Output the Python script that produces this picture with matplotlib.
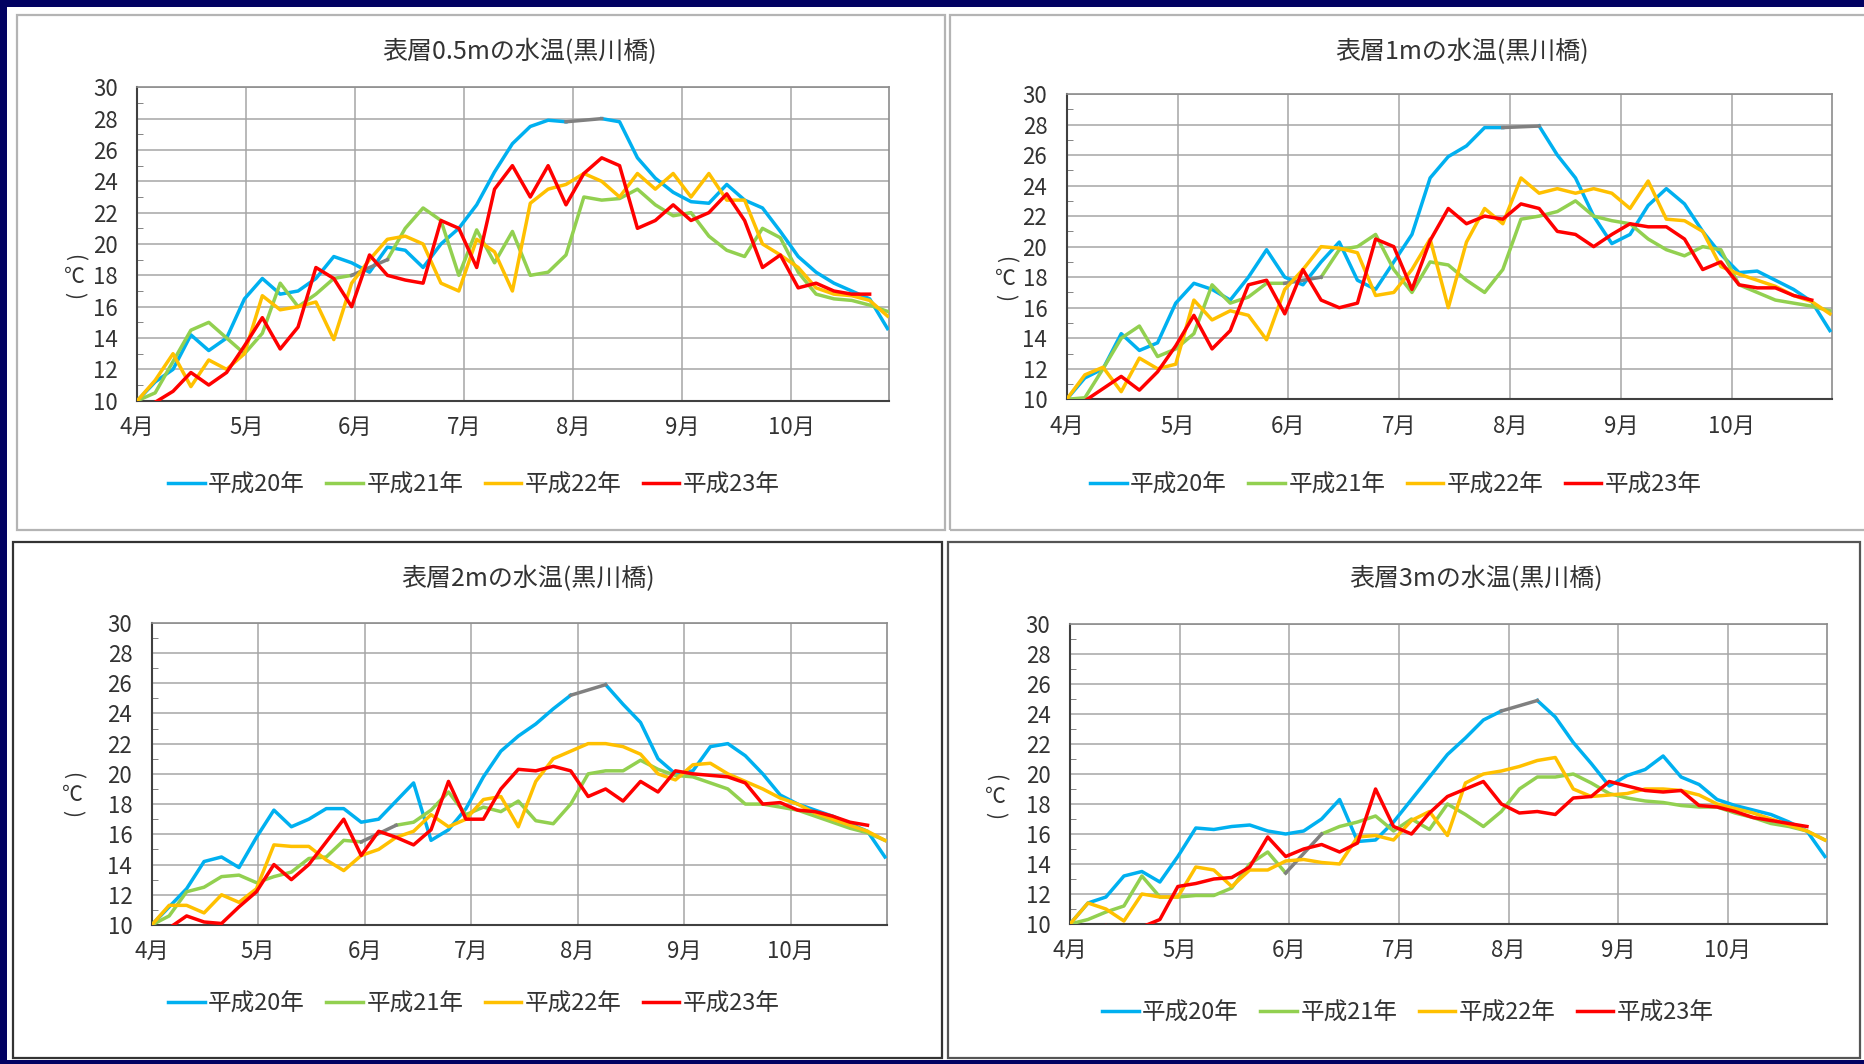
import numpy as np
import matplotlib
matplotlib.use("Agg")
import matplotlib.pyplot as plt
from matplotlib.patches import Rectangle
from matplotlib.ticker import MultipleLocator

plt.rcParams['font.family'] = ['Noto Sans CJK JP', 'DejaVu Sans']

W, H = 1865, 1064
nan = np.nan

# days counted from 4/1, one reading every 5 days
DAYS = list(range(0, 211, 5))
MONTH_POS = [0, 30.5, 61, 91.5, 122, 152.5, 183]
MONTH_LABELS = ['4月', '5月', '6月', '7月', '8月', '9月', '10月']
YEARS = ['平成20年', '平成21年', '平成22年', '平成23年']
COLORS = ['#00b0f0', '#92d050', '#ffc000', '#ff0000']
GAP_COLOR = '#808080'

# --- 表層0.5m ---
T05_H20 = [10.0, 11.2, 12.0, 14.2, 13.2, 14.0, 16.5,
           17.8, 16.8, 17.0, 17.8, 19.2, 18.8, 18.2,
           19.8, 19.6, 18.5, 20.0, 21.0, 22.5, 24.6,
           26.4, 27.5, 27.9, 27.8, nan, 28.0, 27.8,
           25.5, 24.2, 23.3, 22.7, 22.6, 23.8, 22.8,
           22.3, 20.8, 19.2, 18.2, 17.5, 17.0, 16.5, 14.6]
T05_H21 = [10.0, 10.5, 12.5, 14.5, 15.0, 14.0, 13.0,
           14.3, 17.5, 16.0, 16.8, 17.8, 18.0, nan,
           19.0, 21.0, 22.3, 21.5, 18.0, 20.9, 18.8,
           20.8, 18.0, 18.2, 19.3, 23.0, 22.8, 22.9,
           23.5, 22.5, 21.8, 22.0, 20.5, 19.6, 19.2,
           21.0, 20.4, 18.2, 16.8, 16.5, 16.4, 16.1, 15.7]
T05_H22 = [10.0, 11.3, 13.0, 10.9, 12.6, 12.0, 13.0,
           16.7, 15.8, 16.0, 16.3, 13.9, 17.5, 19.0,
           20.3, 20.5, 20.0, 17.5, 17.0, 20.3, 19.5,
           17.0, 22.6, 23.5, 23.8, 24.5, 24.0, 23.0,
           24.5, 23.5, 24.5, 23.0, 24.5, 22.8, 22.8,
           20.0, 19.3, 18.5, 17.2, 16.8, 16.7, 16.4, 15.4]
T05_H23 = [9.5, 9.9, 10.6, 11.8, 11.0, 11.8, 13.5,
           15.3, 13.3, 14.7, 18.5, 17.8, 16.0, 19.3,
           18.0, 17.7, 17.5, 21.5, 21.0, 18.5, 23.5,
           25.0, 23.0, 25.0, 22.5, 24.5, 25.5, 25.0,
           21.0, 21.5, 22.5, 21.5, 22.0, 23.2, 21.5,
           18.5, 19.3, 17.2, 17.5, 17.0, 16.8, 16.8, nan]

# --- 表層1m ---
T1_H20 = [10.0, 11.4, 12.0, 14.3, 13.2, 13.7, 16.3,
          17.6, 17.2, 16.5, 18.0, 19.8, 18.0, 17.5,
          19.0, 20.3, 17.8, 17.2, 19.0, 20.8, 24.5,
          25.9, 26.6, 27.8, 27.8, nan, 27.9, 26.0,
          24.5, 22.0, 20.2, 20.8, 22.7, 23.8, 22.8,
          21.0, 19.5, 18.3, 18.4, 17.8, 17.2, 16.4, 14.5]
T1_H21 = [10.0, 10.1, 12.0, 14.0, 14.8, 12.8, 13.3,
          14.3, 17.5, 16.3, 16.7, 17.6, 17.6, nan,
          18.0, 19.8, 20.0, 20.8, 18.5, 17.0, 19.0,
          18.8, 17.8, 17.0, 18.5, 21.8, 22.0, 22.3,
          23.0, 22.0, 21.7, 21.5, 20.5, 19.8, 19.4,
          20.0, 19.8, 17.5, 17.0, 16.5, 16.3, 16.1, 15.8]
T1_H22 = [10.0, 11.6, 12.1, 10.5, 12.7, 12.0, 12.3,
          16.5, 15.2, 15.8, 15.5, 13.9, 17.2, 18.5,
          20.0, 19.9, 19.6, 16.8, 17.0, 18.5, 20.5,
          16.0, 20.3, 22.5, 21.5, 24.5, 23.5, 23.8,
          23.5, 23.8, 23.5, 22.5, 24.3, 21.8, 21.7,
          21.0, 18.7, 18.2, 17.8, 17.4, 16.8, 16.4, 15.6]
T1_H23 = [9.5, 9.9, 10.7, 11.5, 10.6, 11.8, 13.5,
          15.5, 13.3, 14.5, 17.5, 17.8, 15.6, 18.5,
          16.5, 16.0, 16.3, 20.5, 20.0, 17.2, 20.4,
          22.5, 21.5, 22.0, 21.8, 22.8, 22.5, 21.0,
          20.8, 20.0, 20.8, 21.5, 21.3, 21.3, 20.5,
          18.5, 19.0, 17.5, 17.3, 17.3, 16.8, 16.5, nan]

# --- 表層2m ---
T2_H20 = [10.0, 11.2, 12.4, 14.2, 14.5, 13.8, 15.8,
          17.6, 16.5, 17.0, 17.7, 17.7, 16.8, 17.0,
          18.2, 19.4, 15.6, 16.3, 17.7, 19.8, 21.5,
          22.5, 23.3, 24.3, 25.2, nan, 25.9, 24.6,
          23.4, 21.0, 20.0, 20.2, 21.8, 22.0, 21.2,
          20.0, 18.6, 18.0, 17.6, 17.2, 16.7, 16.2, 14.5]
T2_H21 = [10.0, 10.6, 12.2, 12.5, 13.2, 13.3, 12.8,
          13.2, 13.5, 14.4, 14.5, 15.6, 15.5, nan,
          16.6, 16.8, 17.6, 18.8, 17.3, 17.8, 17.5,
          18.2, 16.9, 16.7, 18.0, 20.0, 20.2, 20.2,
          20.9, 20.3, 19.9, 19.8, 19.4, 19.0, 18.0,
          18.0, 17.8, 17.6, 17.2, 16.8, 16.4, 16.1, 15.6]
T2_H22 = [10.0, 11.3, 11.3, 10.8, 12.0, 11.5, 12.4,
          15.3, 15.2, 15.2, 14.3, 13.6, 14.6, 15.0,
          15.8, 16.2, 17.3, 16.5, 17.0, 18.3, 18.5,
          16.5, 19.5, 21.0, 21.5, 22.0, 22.0, 21.8,
          21.3, 20.0, 19.6, 20.6, 20.7, 20.0, 19.5,
          19.0, 18.4, 18.0, 17.4, 17.0, 16.6, 16.2, 15.6]
T2_H23 = [9.5, 9.8, 10.6, 10.2, 10.1, 11.2, 12.2,
          14.0, 13.0, 14.0, 15.5, 17.0, 14.6, 16.2,
          15.8, 15.3, 16.3, 19.5, 17.0, 17.0, 19.0,
          20.3, 20.2, 20.5, 20.2, 18.5, 19.0, 18.2,
          19.5, 18.8, 20.2, 20.0, 19.9, 19.8, 19.4,
          18.0, 18.1, 17.6, 17.5, 17.2, 16.8, 16.6, nan]

# --- 表層3m ---
T3_H20 = [10.0, 11.4, 11.8, 13.2, 13.5, 12.8, 14.5,
          16.4, 16.3, 16.5, 16.6, 16.2, 16.0, 16.2,
          17.0, 18.3, 15.5, 15.6, 16.8, 18.3, 19.8,
          21.3, 22.4, 23.6, 24.2, nan, 24.9, 23.8,
          22.1, 20.7, 19.2, 19.9, 20.3, 21.2, 19.8,
          19.3, 18.3, 17.9, 17.6, 17.3, 16.8, 16.2, 14.5]
T3_H21 = [10.0, 10.3, 10.8, 11.2, 13.2, 11.8, 11.8,
          11.9, 11.9, 12.4, 14.0, 14.8, 13.4, nan,
          16.0, 16.5, 16.8, 17.2, 16.2, 17.0, 16.3,
          18.0, 17.3, 16.5, 17.5, 19.0, 19.8, 19.8,
          20.0, 19.4, 18.7, 18.4, 18.2, 18.1, 17.9,
          17.8, 17.8, 17.4, 17.1, 16.7, 16.5, 16.2, 15.6]
T3_H22 = [10.0, 11.4, 11.0, 10.2, 12.0, 11.8, 11.8,
          13.8, 13.6, 12.5, 13.6, 13.6, 14.2, 14.3,
          14.1, 14.0, 15.8, 15.9, 15.6, 16.9, 17.5,
          15.9, 19.4, 20.0, 20.2, 20.5, 20.9, 21.1,
          19.0, 18.5, 18.6, 18.7, 19.0, 19.0, 18.9,
          18.6, 18.0, 17.7, 17.4, 17.0, 16.6, 16.2, 15.6]
T3_H23 = [9.5, 9.6, 9.9, 9.6, 9.8, 10.3, 12.5,
          12.7, 13.0, 13.1, 13.8, 15.8, 14.5, 15.0,
          15.3, 14.8, 15.4, 19.0, 16.5, 16.0, 17.4,
          18.5, 19.0, 19.5, 18.0, 17.4, 17.5, 17.3,
          18.4, 18.5, 19.5, 19.2, 18.9, 18.8, 18.9,
          17.9, 17.8, 17.5, 17.1, 16.9, 16.7, 16.5, nan]

# layout in pixels of the 1865x1064 picture
PANELS = [
    dict(title='表層0.5mの水温(黒川橋)', series=[T05_H20, T05_H21, T05_H22, T05_H23],
         box=(137.3, 87.3, 889.3, 400.7), title_xy=(520, 52), legend_xy=(474, 485),
         ylabel_xy=(74, 277), frame=(17, 15, 945, 530), frame_color='#b4b4b4'),
    dict(title='表層1mの水温(黒川橋)', series=[T1_H20, T1_H21, T1_H22, T1_H23],
         box=(1066.7, 94, 1831.7, 399.3), title_xy=(1462, 52), legend_xy=(1396, 485),
         ylabel_xy=(1005, 279), frame=(950, 15, 1870, 530), frame_color='#b4b4b4'),
    dict(title='表層2mの水温(黒川橋)', series=[T2_H20, T2_H21, T2_H22, T2_H23],
         box=(151.7, 622.7, 886.7, 925), title_xy=(528, 579), legend_xy=(474, 1004),
         ylabel_xy=(72, 795), frame=(13, 542, 942, 1058), frame_color='#333333'),
    dict(title='表層3mの水温(黒川橋)', series=[T3_H20, T3_H21, T3_H22, T3_H23],
         box=(1070, 624, 1826.7, 924), title_xy=(1476, 579), legend_xy=(1408, 1013),
         ylabel_xy=(995, 797), frame=(948, 542, 1860, 1058), frame_color='#555555'),
]


def fig_rect(x0, y0, x1, y1):
    return [x0 / W, 1 - y1 / H, (x1 - x0) / W, (y1 - y0) / H]


def draw_unit_label(fig, x, y):
    # （℃） set vertically: brackets turned, degree sign upright
    kw = dict(ha='center', va='center', fontsize=15, color='#333333')
    fig.text(x / W, 1 - (y - 19) / H, '(', rotation=-90, **kw)
    fig.text(x / W, 1 - y / H, '℃', **kw)
    fig.text(x / W, 1 - (y + 19) / H, ')', rotation=-90, **kw)


def draw_panel(fig, p):
    fx0, fy0, fx1, fy1 = p['frame']
    l, b, w, h = fig_rect(fx0, fy0, fx1, fy1)
    fig.add_artist(Rectangle((l, b), w, h, transform=fig.transFigure, fill=False,
                             ec=p['frame_color'], lw=1.6, zorder=1))

    ax = fig.add_axes(fig_rect(*p['box']))
    for vals, name, c in zip(p['series'], YEARS, COLORS):
        y = np.array(vals, dtype=float)
        ax.plot(DAYS, y, color=c, lw=2.5, label=name, zorder=3)
        # missing days are bridged with a grey segment
        idx = np.flatnonzero(~np.isnan(y))
        for a, b2 in zip(idx[:-1], idx[1:]):
            if b2 - a > 1:
                ax.plot([DAYS[a], DAYS[b2]], [y[a], y[b2]], color=GAP_COLOR, lw=2.5, zorder=3)

    ax.set_xlim(0, 210.5)
    ax.set_ylim(10, 30)
    ax.set_xticks(MONTH_POS)
    ax.set_xticklabels(MONTH_LABELS)
    ax.set_yticks(range(10, 31, 2))
    ax.yaxis.set_minor_locator(MultipleLocator(1))
    ax.grid(True, which='major', color='#a6a6a6', lw=1.1)
    ax.set_axisbelow(True)
    ax.tick_params(which='major', length=0, labelsize=16, labelcolor='#333333')
    ax.tick_params(axis='x', pad=11)
    ax.tick_params(axis='y', pad=14)
    ax.tick_params(axis='y', which='minor', direction='in', length=4, color='#707070')
    ax.tick_params(axis='x', which='minor', length=0)
    for side in ['left', 'bottom']:
        ax.spines[side].set_color('#404040')
        ax.spines[side].set_linewidth(1.5)
    for side in ['top', 'right']:
        ax.spines[side].set_color('#8c8c8c')
        ax.spines[side].set_linewidth(1.2)

    tx, ty = p['title_xy']
    fig.text(tx / W, 1 - ty / H, p['title'], ha='center', va='center',
             fontsize=18, color='#333333')
    draw_unit_label(fig, *p['ylabel_xy'])
    lx, ly = p['legend_xy']
    leg = ax.legend(loc='center', bbox_to_anchor=(lx / W, 1 - ly / H),
                    bbox_transform=fig.transFigure, ncol=4, frameon=False,
                    fontsize=17, handlelength=1.55, handletextpad=0.15,
                    columnspacing=0.9)
    for t in leg.get_texts():
        t.set_color('#333333')


def main():
    fig = plt.figure(figsize=(W / 100, H / 100), dpi=100, facecolor='#020262')
    fig.add_artist(Rectangle((7 / W, 1 - 1060 / H), 1 - 7 / W, (1060 - 7) / H,
                             transform=fig.transFigure, fc='white', ec='none', zorder=0))
    for p in PANELS:
        draw_panel(fig, p)
    fig.savefig('out.png', dpi=100, facecolor=fig.get_facecolor())
    plt.close(fig)


if __name__ == "__main__":
    main()
